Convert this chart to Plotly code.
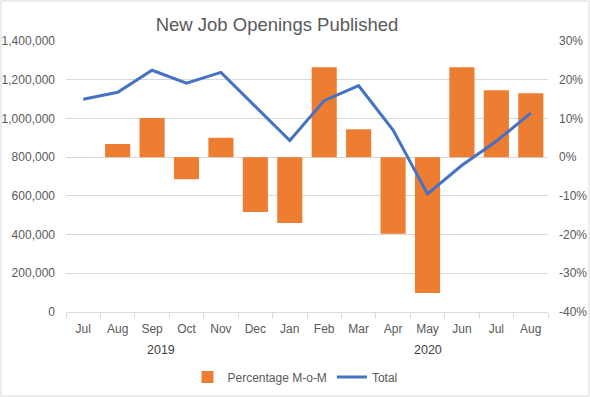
import plotly.graph_objects as go

months = ["Jul", "Aug", "Sep", "Oct", "Nov", "Dec", "Jan", "Feb", "Mar", "Apr", "May", "Jun", "Jul", "Aug"]
years = ["2019", "2020"]
total = [1099000, 1135000, 1249000, 1182000, 1238000, 1062000, 886000, 1092000, 1169000, 940000, 610000, 758000, 882000, 1027000]
pct_mom = [None, 0.034, 0.101, -0.057, 0.050, -0.142, -0.170, 0.232, 0.072, -0.198, -0.351, 0.232, 0.173, 0.165]
pct_ticks = [-0.4, -0.3, -0.2, -0.1, 0.0, 0.1, 0.2, 0.3]
total_ticks = [0, 200000, 400000, 600000, 800000, 1000000, 1200000, 1400000]

x = list(range(len(months)))
GRID = "#d9d9d9"
TXT = "#595959"
FONT = "Liberation Sans, Arial, sans-serif"

fig = go.Figure()
fig.add_trace(go.Bar(x=x, y=pct_mom, name="Percentage M-o-M", marker_color="#ED7D31",
                     width=0.73, yaxis="y", hoverinfo="skip"))
fig.add_trace(go.Scatter(x=x, y=total, name="Total", mode="lines",
                         line=dict(color="#4472C4", width=3), yaxis="y2", hoverinfo="skip"))

fig.update_layout(
    template="none",
    width=590, height=397,
    margin=dict(l=66, r=42, t=41, b=85, autoexpand=False),
    paper_bgcolor="white", plot_bgcolor="white",
    font=dict(family=FONT, size=12, color=TXT),
    title=dict(text="New Job Openings Published", x=277/590, xanchor="center",
               y=1 - 25/397, yanchor="middle", xref="container", yref="container",
               font=dict(size=18.5, color=TXT, family=FONT)),
    xaxis=dict(range=[-0.5, len(months) - 0.5], tickvals=x, ticktext=months,
               ticks="", showgrid=False, showline=True, linecolor=GRID, linewidth=1,
               zeroline=False, automargin=False, ticklabelstandoff=6,
               tickfont=dict(size=12, color=TXT),
               minor=dict(tickvals=[i - 0.5 for i in range(len(months) + 1)],
                          ticks="outside", ticklen=5, tickcolor=GRID, showgrid=False)),
    yaxis=dict(range=[-0.4, 0.3], tickvals=pct_ticks,
               ticktext=[f"{v:.0%}" for v in pct_ticks], side="right",
               showgrid=True, gridcolor=GRID, gridwidth=1, zeroline=False, showline=False,
               ticks="", automargin=False,
               ticklabelstandoff=10, tickfont=dict(size=12, color=TXT)),
    yaxis2=dict(range=[0, 1400000], tickvals=total_ticks,
                ticktext=[f"{v:,}" for v in total_ticks], side="left",
                overlaying="y", showgrid=False, zeroline=False, showline=False,
                ticks="", automargin=False,
                ticklabelstandoff=10, tickfont=dict(size=12, color=TXT)),
    legend=dict(orientation="h", x=0.5, xanchor="center", xref="container",
                y=1 - 377/397, yanchor="middle", yref="container",
                font=dict(size=12, color=TXT), traceorder="normal",
                bgcolor="rgba(0,0,0,0)"),
    bargap=0.27,
    showlegend=True,
    hovermode=False,
)

yr_y = (312 - 350) / 271
fig.add_annotation(text=years[0], x=2.26, xref="x", y=yr_y, yref="paper", yanchor="middle",
                   showarrow=False, font=dict(size=12.5, color="#404040"))
fig.add_annotation(text=years[1], x=10.0, xref="x", y=yr_y, yref="paper", yanchor="middle",
                   showarrow=False, font=dict(size=12.5, color="#404040"))

fig.add_shape(type="rect", xref="paper", yref="paper",
              x0=(1 - 66) / 482, x1=(589 - 66) / 482,
              y0=(312 - 396) / 271, y1=(312 - 1) / 271,
              line=dict(color=GRID, width=1), fillcolor="rgba(0,0,0,0)", layer="below")

fig.write_html("out.html", config={"displayModeBar": False, "staticPlot": True},
               post_script="document.body.style.margin='0';document.body.style.overflow='hidden';")
